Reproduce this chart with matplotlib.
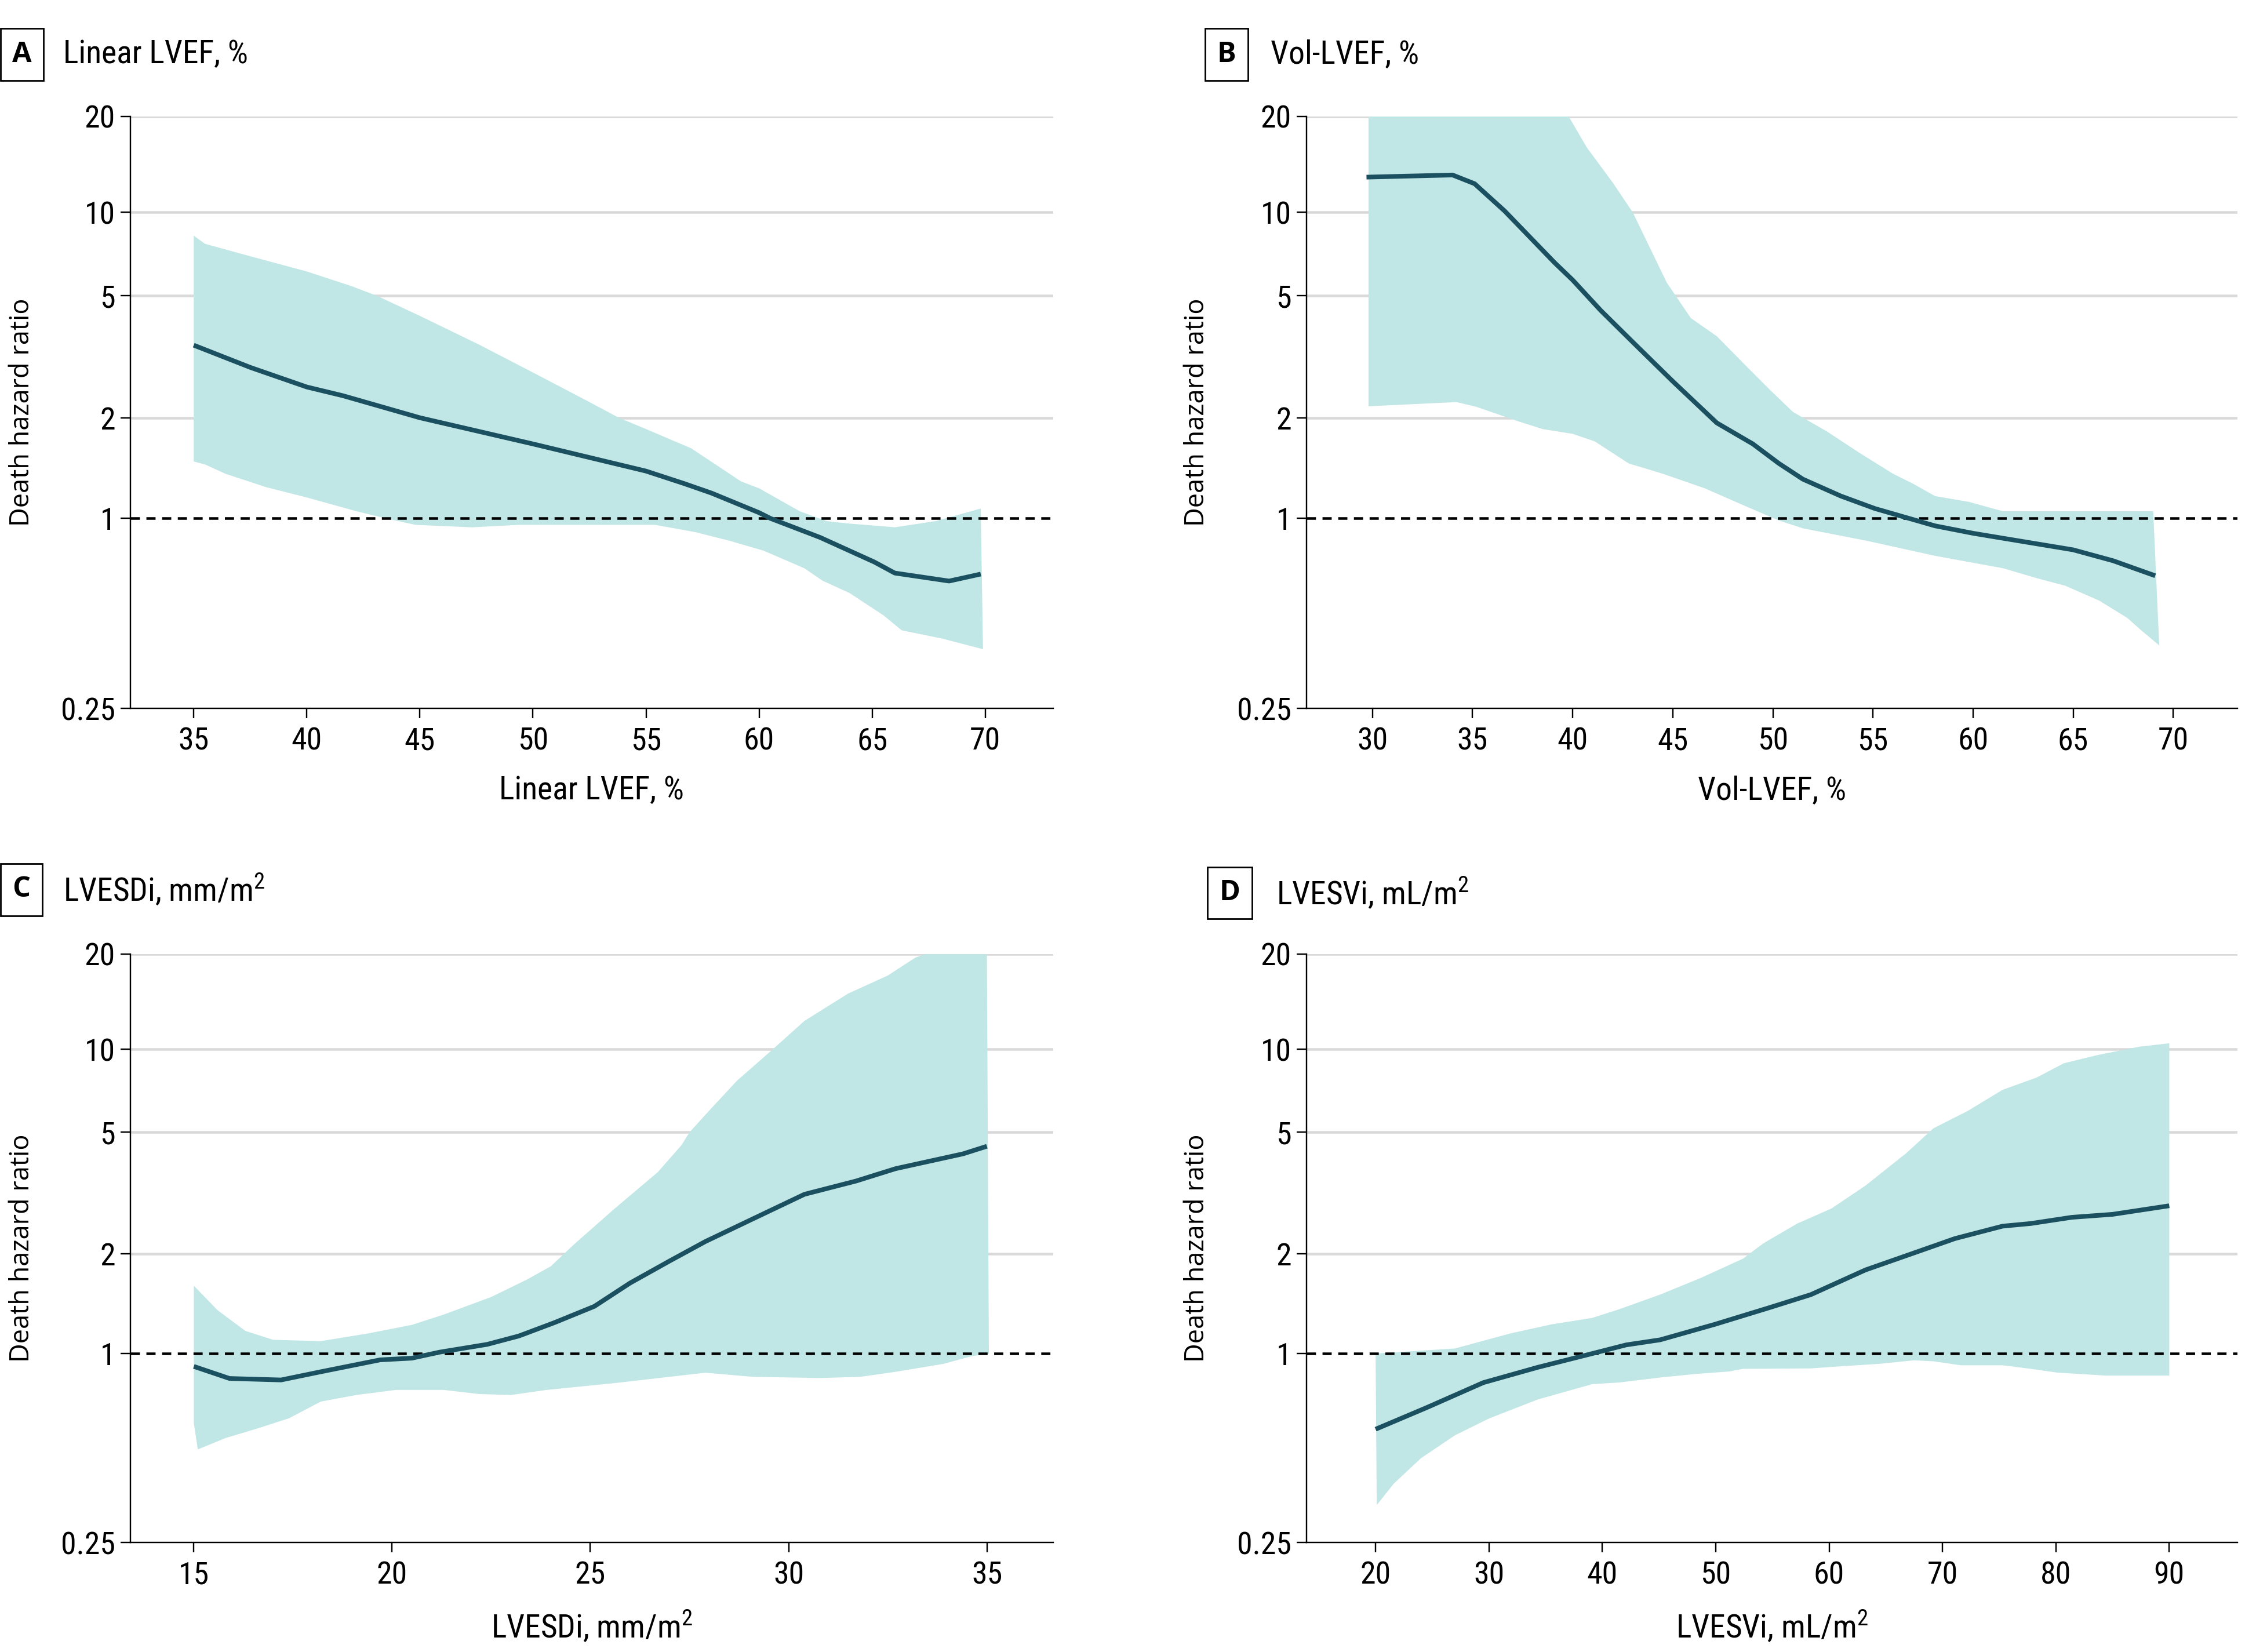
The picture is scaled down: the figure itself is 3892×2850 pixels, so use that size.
import numpy as np
import matplotlib
matplotlib.use('Agg')
import matplotlib.pyplot as plt
from matplotlib import font_manager

# pick a narrow font for ticks / titles if one is installed
def pick_font(names):
    for n in names:
        try:
            font_manager.findfont(n, fallback_to_default=False)
            return n
        except Exception:
            pass
    return 'DejaVu Sans'

NARROW = pick_font(['Liberation Sans Narrow', 'Roboto Condensed', 'Open Sans Condensed', 'Liberation Sans'])
WIDE = pick_font(['Open Sans', 'Noto Sans', 'DejaVu Sans'])
plt.rcParams['font.family'] = [NARROW, 'DejaVu Sans']
plt.rcParams['mathtext.default'] = 'regular'

# ---- data ----
# A: Linear LVEF
a_x = [35, 37.5, 40, 41.6, 45, 50, 55, 56.7, 57.9, 60, 60.5, 62.7, 65.1, 66, 68.4, 69.8]
a_hr = [3.45, 2.92, 2.52, 2.36, 2.0, 1.67, 1.385, 1.27, 1.19, 1.04, 1.0, 0.87, 0.727, 0.671, 0.633, 0.666]
a_up_x = [35, 35.5, 37.4, 40, 42, 43.1, 45, 47.6, 50, 52.4, 53.8, 55, 57, 59.2, 60, 61.8, 63, 63.9, 66, 67.8, 68.7, 69.8]
a_up = [8.24, 7.7, 6.98, 6.12, 5.41, 5.0, 4.3, 3.47, 2.81, 2.27, 2.0, 1.85, 1.62, 1.29, 1.23, 1.05, 0.98, 0.964, 0.937, 0.98, 1.02, 1.07]
a_lo_x = [35, 35.5, 36.4, 38.2, 40, 42.2, 43.5, 44.8, 47.3, 49.4, 52, 55.4, 57.2, 58.7, 60.2, 62, 62.8, 64, 65.5, 66.3, 68.1, 69.9]
a_lo = [1.48, 1.45, 1.36, 1.24, 1.155, 1.05, 1.0, 0.954, 0.937, 0.954, 0.954, 0.954, 0.904, 0.849, 0.79, 0.695, 0.635, 0.58, 0.493, 0.442, 0.416, 0.385]

# B: Vol-LVEF
b_x = [29.7, 34, 35.1, 36.6, 39.1, 40, 41.4, 43.1, 45, 47.2, 49, 50.3, 51.5, 53.4, 55.1, 56.8, 58.1, 60, 61.5, 65, 67, 69.1]
b_hr = [12.9, 13.1, 12.3, 10.1, 6.58, 5.7, 4.48, 3.48, 2.63, 1.93, 1.67, 1.46, 1.31, 1.166, 1.07, 1.0, 0.947, 0.897, 0.865, 0.795, 0.734, 0.658]
b_up_x = [29.8, 33, 36, 38, 39.8, 40.7, 42, 43, 44.7, 45.9, 47.2, 48.6, 49.9, 51, 52.7, 54.4, 56, 57, 58.1, 59.8, 61.5, 65, 69.0]
b_up = [60, 55, 40, 28, 20, 16.0, 12.4, 10, 5.58, 4.23, 3.69, 2.98, 2.45, 2.09, 1.82, 1.56, 1.36, 1.27, 1.166, 1.12, 1.05, 1.05, 1.05]
b_lo_x = [29.8, 34.2, 35.2, 37.3, 38.5, 40, 41.1, 42.8, 44.5, 46.6, 48.6, 50.3, 51.5, 54.7, 58.1, 61.5, 63.2, 64.6, 66.3, 67.7, 68.4, 69.3]
b_lo = [2.18, 2.25, 2.17, 1.95, 1.85, 1.79, 1.70, 1.46, 1.36, 1.23, 1.09, 0.985, 0.93, 0.849, 0.761, 0.695, 0.646, 0.612, 0.549, 0.484, 0.442, 0.396]

# C: LVESDi
c_x = [15, 15.9, 17.2, 18.2, 19.7, 20.5, 21.2, 22.4, 23.2, 24.1, 25.1, 26, 27, 27.9, 29.1, 30.4, 31.7, 32.7, 34.4, 35]
c_hr = [0.91, 0.833, 0.824, 0.875, 0.955, 0.967, 1.01, 1.066, 1.13, 1.24, 1.387, 1.63, 1.90, 2.19, 2.6, 3.13, 3.46, 3.8, 4.25, 4.5]
c_up_x = [15, 15.6, 16.3, 17, 18.2, 19.4, 20.5, 21.3, 22.5, 23.4, 24, 24.6, 25.6, 26.7, 27.3, 27.5, 28, 28.7, 29.6, 30.4, 31.5, 32.5, 33.2, 33.7, 35]
c_up = [1.6, 1.35, 1.17, 1.10, 1.09, 1.15, 1.22, 1.31, 1.48, 1.67, 1.83, 2.15, 2.8, 3.7, 4.54, 5.0, 6.0, 7.7, 10, 12.3, 15, 17.1, 19.5, 20.5, 20.5]
c_lo_x = [15.0, 15.1, 15.8, 16.6, 17.4, 18.2, 19.1, 20.1, 21.3, 22.2, 23, 23.9, 25.6, 27.9, 29.1, 30.8, 31.8, 32.7, 33.9, 34.6, 35.05]
c_lo = [0.6, 0.495, 0.538, 0.577, 0.622, 0.703, 0.738, 0.766, 0.766, 0.743, 0.738, 0.766, 0.805, 0.869, 0.843, 0.836, 0.843, 0.875, 0.927, 0.98, 1.0]

# D: LVESVi
d_x = [20, 24.6, 29.5, 34.3, 39.1, 42.1, 45.1, 49.9, 54.8, 58.4, 63.2, 67.5, 71.1, 75.3, 77.8, 81.4, 85, 90]
d_hr = [0.574, 0.675, 0.808, 0.904, 1.0, 1.062, 1.10, 1.224, 1.377, 1.505, 1.785, 2.01, 2.24, 2.46, 2.51, 2.63, 2.69, 2.87]
d_up_x = [20, 27, 31.9, 35.5, 39.1, 41.5, 45.1, 48.7, 52.4, 54.2, 57.2, 60.2, 63.2, 66.8, 69.2, 72.2, 75.3, 78.3, 80.7, 83.7, 87.4, 90]
d_up = [1.0, 1.036, 1.15, 1.224, 1.28, 1.36, 1.505, 1.69, 1.93, 2.16, 2.51, 2.81, 3.34, 4.27, 5.17, 5.97, 7.13, 7.9, 8.9, 9.54, 10.2, 10.45]
d_lo_x = [20.1, 21.6, 24, 27, 30, 34.3, 39.1, 41.5, 45.1, 48.2, 51.2, 52.4, 58.4, 60.8, 64.5, 67.5, 69.2, 71.6, 75.3, 77.8, 80.1, 84.4, 90]
d_lo = [0.329, 0.385, 0.464, 0.549, 0.621, 0.714, 0.799, 0.809, 0.839, 0.861, 0.877, 0.894, 0.897, 0.91, 0.928, 0.952, 0.945, 0.918, 0.918, 0.894, 0.87, 0.851, 0.851]

y_ticks = [0.25, 1, 2, 5, 10, 20]
y_ticklabels = ['0.25', '1', '2', '5', '10', '20']
grid_levels = [2, 5, 10, 20]

# the original's log axis is not quite uniform: where each tick sits (0 = bottom, 1 = top)
tick_frac = [0.0, 0.321, 0.491, 0.697, 0.838, 1.0]
LOG_T = np.log10(y_ticks)
POS = np.array(tick_frac)
SLO = (POS[1] - POS[0]) / (LOG_T[1] - LOG_T[0])
SHI = (POS[-1] - POS[-2]) / (LOG_T[-1] - LOG_T[-2])


def fwd(y):
    ly = np.log10(np.clip(np.asarray(y, dtype=float), 1e-9, None))
    out = np.interp(ly, LOG_T, POS)
    out = np.where(ly > LOG_T[-1], POS[-1] + (ly - LOG_T[-1]) * SHI, out)
    out = np.where(ly < LOG_T[0], POS[0] + (ly - LOG_T[0]) * SLO, out)
    return out


def inv(f):
    f = np.asarray(f, dtype=float)
    ly = np.interp(f, POS, LOG_T)
    ly = np.where(f > POS[-1], LOG_T[-1] + (f - POS[-1]) / SHI, ly)
    ly = np.where(f < POS[0], LOG_T[0] + (f - POS[0]) / SLO, ly)
    return 10 ** ly


FILL = '#c0e6e5'
LINE = '#1b5060'
GRID = '#d9d9d9'

fig = plt.figure(figsize=(15.568, 11.4), dpi=250)

panels = [
    # letter, title, xlabel, xlim, xticks, rect, data
    ('A', 'Linear LVEF, %', 'Linear LVEF, %', (32.2, 73.0), range(35, 71, 5),
     [0.0578, 0.5712, 0.409, 0.3583], (a_x, a_hr, a_up_x, a_up, a_lo_x, a_lo)),
    ('B', 'Vol-LVEF, %', 'Vol-LVEF, %', (26.7, 73.2), range(30, 71, 5),
     [0.5791, 0.5712, 0.4126, 0.3583], (b_x, b_hr, b_up_x, b_up, b_lo_x, b_lo)),
    ('C', r'LVESDi, mm/m$^{2}$', r'LVESDi, mm/m$^{2}$', (13.4, 36.67), range(15, 36, 5),
     [0.0578, 0.0663, 0.409, 0.3562], (c_x, c_hr, c_up_x, c_up, c_lo_x, c_lo)),
    ('D', r'LVESVi, mL/m$^{2}$', r'LVESVi, mL/m$^{2}$', (13.9, 96.0), range(20, 91, 10),
     [0.5791, 0.0663, 0.4126, 0.3562], (d_x, d_hr, d_up_x, d_up, d_lo_x, d_lo)),
]

title_pos = {'A': (0.0055, 0.967, 0.028), 'B': (0.5395, 0.967, 0.5632),
             'C': (0.0055, 0.4615, 0.028), 'D': (0.5405, 0.4595, 0.5658)}

for letter, title, xlabel, xlim, xticks, rect, data in panels:
    x, hr, ux, uy, lx, ly = data
    ax = fig.add_axes(rect)
    ax.set_yscale('function', functions=(fwd, inv))
    for g in grid_levels:
        ax.axhline(g, color=GRID, lw=1.3, zorder=0)
    ax.fill(np.concatenate([ux, lx[::-1]]), np.concatenate([uy, ly[::-1]]),
            color=FILL, lw=0, zorder=1)
    ax.axhline(1, color='black', lw=1.3, ls=(0, (3.5, 2.5)), zorder=2)
    ax.plot(x, hr, color=LINE, lw=2.3, zorder=3, solid_capstyle='butt')

    ax.set_xlim(*xlim)
    ax.set_ylim(0.25, 20)
    ax.set_xticks(list(xticks))
    ax.set_yticks(y_ticks)
    ax.set_yticklabels(y_ticklabels)
    ax.yaxis.set_minor_locator(matplotlib.ticker.NullLocator())
    ax.tick_params(axis='both', labelsize=15.5, length=5, width=0.7, color='black', pad=2.5)
    ax.tick_params(axis='x', pad=4)
    for s in ['top', 'right']:
        ax.spines[s].set_visible(False)
    for s in ['left', 'bottom']:
        ax.spines[s].set_linewidth(0.7)

    ax.set_xlabel(xlabel, fontsize=16)
    ax.xaxis.set_label_coords(0.5, -0.113)
    ax.set_ylabel('Death hazard ratio', fontsize=13, family=[WIDE, 'DejaVu Sans'])
    ax.yaxis.set_label_coords(-0.103, 0.5)

    bx, by, tx = title_pos[letter]
    fig.text(bx, by, letter, fontsize=14, fontweight='bold', ha='left', va='center',
             family=[WIDE, 'DejaVu Sans'],
             bbox=dict(boxstyle='square,pad=0.42', fc='white', ec='black', lw=0.8))
    fig.text(tx, by, title, fontsize=16, ha='left', va='center')

fig.savefig('out.png', dpi=250)
